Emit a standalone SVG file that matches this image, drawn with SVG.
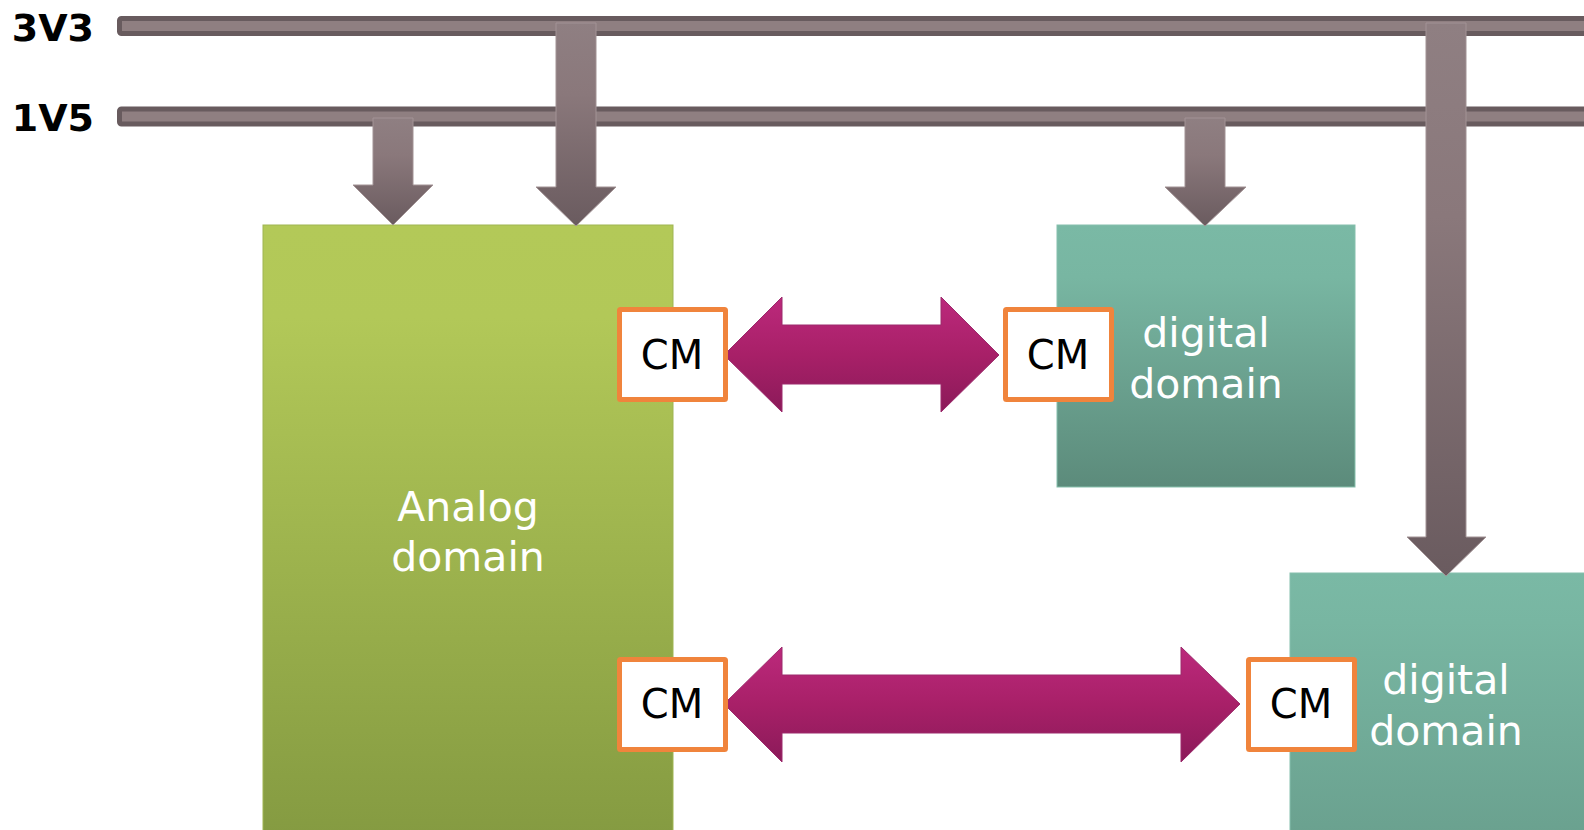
<svg xmlns="http://www.w3.org/2000/svg" width="1584" height="830" viewBox="0 0 1584 830">
  <defs>
    <linearGradient id="gAnalog" x1="0" y1="0" x2="0" y2="1">
      <stop offset="0" stop-color="#b3c958"/>
      <stop offset="0.15" stop-color="#b2c858"/>
      <stop offset="1" stop-color="#849a41"/>
    </linearGradient>
    <linearGradient id="gDigital" x1="0" y1="0" x2="0" y2="1">
      <stop offset="0" stop-color="#7ab9a5"/>
      <stop offset="0.2" stop-color="#78b6a2"/>
      <stop offset="1" stop-color="#5c8b7b"/>
    </linearGradient>
    <linearGradient id="gDigital2" x1="0" y1="573" x2="0" y2="1060" gradientUnits="userSpaceOnUse">
      <stop offset="0" stop-color="#7ab9a5"/>
      <stop offset="0.1" stop-color="#78b6a2"/>
      <stop offset="1" stop-color="#5c8b7b"/>
    </linearGradient>
    <linearGradient id="gPower" x1="0" y1="0" x2="0" y2="1">
      <stop offset="0" stop-color="#8f7f82"/>
      <stop offset="0.35" stop-color="#8a787b"/>
      <stop offset="1" stop-color="#6a5b5f"/>
    </linearGradient>
    <linearGradient id="gLink" x1="0" y1="0" x2="0" y2="1">
      <stop offset="0" stop-color="#bc297c"/>
      <stop offset="0.5" stop-color="#a82068"/>
      <stop offset="1" stop-color="#8b1a59"/>
    </linearGradient>
  </defs>
  <style>
    .rail { fill: #8f7f81; stroke: #685b5e; stroke-width: 5; }
    .feed { fill: url(#gPower); stroke: #a29395; stroke-width: 1; }
    .link { fill: url(#gLink); stroke: #9c2a6c; stroke-width: 1; }
    .cm { fill: #ffffff; stroke: #f0843c; stroke-width: 5; }
    .cmText { font-family: "DejaVu Sans", Verdana, sans-serif; font-size: 40px; fill: #000000; text-anchor: middle; }
    .domText { font-family: "DejaVu Sans", Verdana, sans-serif; font-size: 41px; fill: #ffffff; text-anchor: middle; }
    .railText { font-family: "DejaVu Sans", Verdana, sans-serif; font-weight: bold; font-size: 38px; fill: #000000; text-anchor: end; }
  </style>

  <rect width="1584" height="830" fill="#ffffff"/>

  <!-- supply rails -->
  <g id="rail-3v3">
    <rect class="rail" x="119.5" y="18.5" width="1490" height="15" rx="2"/>
    <text class="railText" x="94" y="41">3V3</text>
  </g>
  <g id="rail-1v5">
    <rect class="rail" x="119.5" y="109" width="1490" height="15" rx="2"/>
    <text class="railText" x="94" y="131">1V5</text>
  </g>

  <!-- domains -->
  <g id="analog-domain">
    <rect x="263" y="225" width="410" height="620" fill="url(#gAnalog)" stroke="#9fb552" stroke-width="1"/>
    <text class="domText" x="468" y="521">Analog</text>
    <text class="domText" x="468" y="571">domain</text>
  </g>
  <g id="digital-domain-1">
    <rect x="1057" y="225" width="298" height="262" fill="url(#gDigital)" stroke="#86c0ad" stroke-width="1"/>
    <text class="domText" x="1206" y="347">digital</text>
    <text class="domText" x="1206" y="398">domain</text>
  </g>
  <g id="digital-domain-2">
    <rect x="1290" y="573" width="320" height="280" fill="url(#gDigital2)" stroke="#86c0ad" stroke-width="1"/>
    <text class="domText" x="1446" y="694">digital</text>
    <text class="domText" x="1446" y="745">domain</text>
  </g>

  <!-- connectors: power feeds and communication links -->
  <g id="connectors">
    <path id="feed-1v5-analog" class="feed" d="M373,118 H413 V185 H433 L393,225 L353,185 H373 Z"/>
    <path id="feed-3v3-analog" class="feed" d="M556,23 H596 V187 H616 L576,226 L536,187 H556 Z"/>
    <path id="feed-1v5-digital1" class="feed" d="M1185,118 H1225 V187 H1246 L1205,226 L1165,187 H1185 Z"/>
    <path id="feed-3v3-digital2" class="feed" d="M1426,23 H1466 V537 H1486 L1446,576 L1407,537 H1426 Z"/>

    <path id="link-top" class="link" d="M724,355 L782,297 V325 H941 V297 L999,355 L941,412 V384 H782 V412 Z"/>
    <path id="link-bottom" class="link" d="M724,704 L782,647 V675 H1181 V647 L1240,704 L1181,762 V733 H782 V762 Z"/>
  </g>

  <!-- communication modules -->
  <g id="cm-analog-top">
    <rect class="cm" x="619.5" y="309.5" width="106" height="90" rx="1"/>
    <text class="cmText" x="672" y="369">CM</text>
  </g>
  <g id="cm-digital1">
    <rect class="cm" x="1005.5" y="309.5" width="106" height="90" rx="1"/>
    <text class="cmText" x="1058" y="369">CM</text>
  </g>
  <g id="cm-analog-bottom">
    <rect class="cm" x="619.5" y="659.5" width="106" height="90" rx="1"/>
    <text class="cmText" x="672" y="718">CM</text>
  </g>
  <g id="cm-digital2">
    <rect class="cm" x="1248.5" y="659.5" width="106" height="90" rx="1"/>
    <text class="cmText" x="1301" y="718">CM</text>
  </g>
</svg>
